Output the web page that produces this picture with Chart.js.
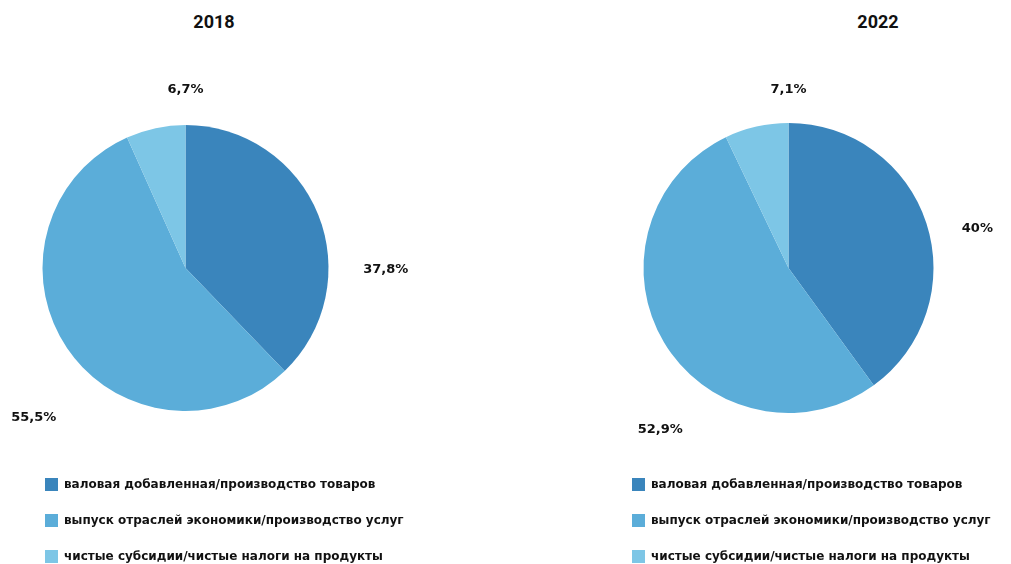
<!DOCTYPE html>
<html>
<head>
<meta charset="utf-8">
<script src="https://cdn.jsdelivr.net/npm/chart.js@4"></script>
<style>
  html, body { margin: 0; padding: 0; background: #fff; overflow: hidden; }
  body { width: 1011px; height: 564px; position: relative; font-family: Roboto, sans-serif; }
  .box { position: absolute; top: 0; height: 573px; }
  .title { position: absolute; top: 11px; font: bold 18px Roboto, sans-serif; color: #111; transform: translateX(-50%); }
</style>
</head>
<body>
<div class="title" style="left:214px">2018</div>
<div class="title" style="left:878px">2022</div>
<div class="box" style="left:0;width:505px"><canvas id="pie2018" width="505" height="573"></canvas></div>
<div class="box" style="left:505px;width:506px"><canvas id="pie2022" width="506" height="573"></canvas></div>
<script>
//categories (shown in legend)
const categories = [
  "валовая добавленная/производство товаров",
  "выпуск отраслей экономики/производство услуг",
  "чистые субсидии/чистые налоги на продукты",
];

//shares in percent
const values2018 = [37.8, 55.5, 6.7];
const values2022 = [40, 52.9, 7.1];

//label text for each slice
const labels2018 = ["37,8%", "55,5%", "6,7%"];
const labels2022 = ["40%", "52,9%", "7,1%"];

//slice colors
const sliceColors = ["#3a85bc", "#5badd9", "#7dc6e6"];

//where each value label sits: angle (deg, clockwise from top) and distance in radii
const labelPos2018 = [[90.6, 1.40], [225.4, 1.49], [0, 1.245]];
const labelPos2022 = [[78.3, 1.33], [218.5, 1.42], [0, 1.23]];

//Plugin that writes the value labels outside the slices
const outsideLabels = {
  id: "outsideLabels",
  afterDatasetsDraw(chart, args, opts) {
    const ctx = chart.ctx;
    const meta = chart.getDatasetMeta(0);
    ctx.save();
    ctx.font = "bold 13px 'DejaVu Sans', sans-serif";
    ctx.fillStyle = "#111";
    ctx.textAlign = "center";
    ctx.textBaseline = "middle";
    meta.data.forEach((arc, i) => {
      const p = arc.getProps(["x", "y", "outerRadius"], true);
      const ang = (opts.pos[i][0] * Math.PI) / 180;
      const d = opts.pos[i][1] * p.outerRadius;
      ctx.fillText(opts.text[i], p.x + d * Math.sin(ang), p.y - d * Math.cos(ang));
    });
    ctx.restore();
  },
};

// rightGap: empty side box (an invisible title on the right) so the pie sits
// left of centre while the bottom legend keeps the full width
function makePie(id, values, text, pos, radius, padding, rightGap) {
  return new Chart(document.getElementById(id), {
    type: "pie",
    plugins: [outsideLabels],
    data: {
      labels: categories,
      datasets: [
        {
          data: values,
          backgroundColor: sliceColors,
          borderWidth: 0,
          radius: radius,
        },
      ],
    },
    options: {
      responsive: false,
      animation: false,
      layout: { padding: padding },
      plugins: {
        tooltip: { enabled: false },
        title: {
          display: true,
          position: "right",
          text: "",
          font: { size: 10, lineHeight: 1 },
          padding: { top: rightGap - 10, bottom: 0 },
        },
        outsideLabels: { text: text, pos: pos },
        legend: {
          position: "bottom",
          align: "start",
          labels: {
            boxWidth: 13,
            boxHeight: 13,
            padding: 23,
            color: "#111",
            font: { family: "'DejaVu Sans', sans-serif", size: 12, weight: "bold" },
          },
        },
      },
    },
  });
}

makePie("pie2018", values2018, labels2018, labelPos2018, 143, { left: 22, right: 0, top: 81, bottom: 0 }, 156);
makePie("pie2022", values2022, labels2022, labelPos2022, 145, { left: 104, right: 0, top: 81, bottom: 0 }, 43);
</script>
</body>
</html>
